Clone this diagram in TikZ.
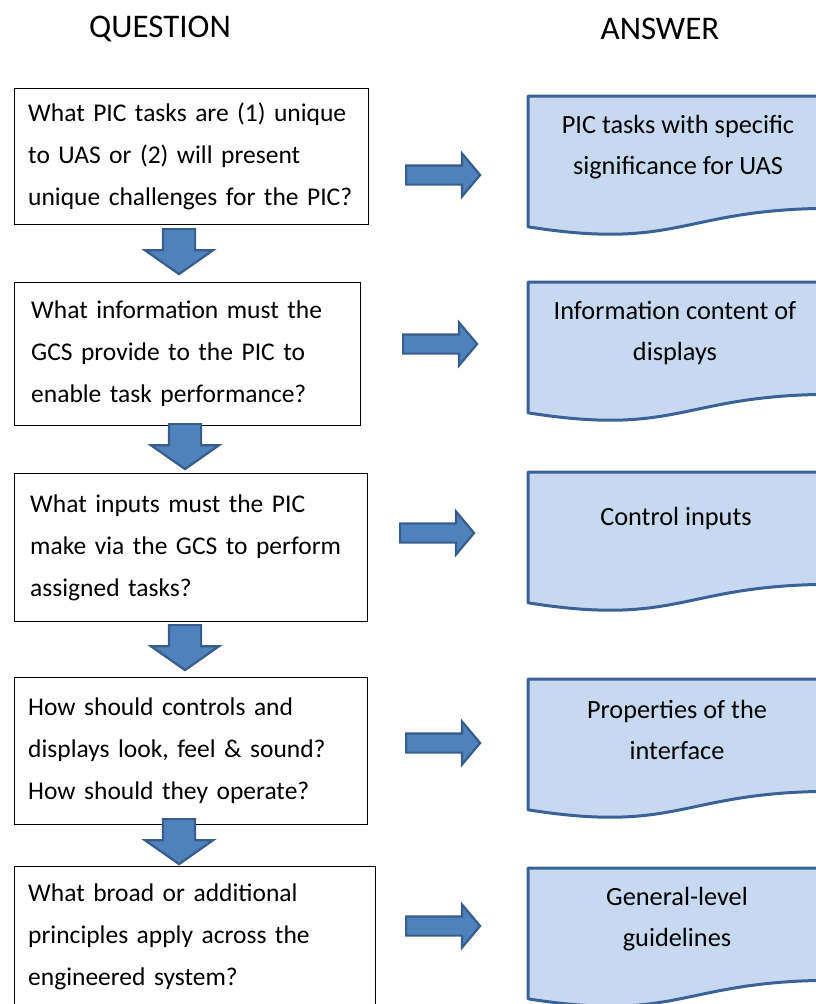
\documentclass[tikz,border=0pt]{standalone}
\usepackage{fontspec}
\setmainfont{Carlito}
\usetikzlibrary{shapes.arrows}
\definecolor{docfill}{HTML}{C6D9F1}
\definecolor{docline}{HTML}{3A6296}
\definecolor{arrfill}{HTML}{4F81BD}
\definecolor{arrline}{HTML}{385D8A}

\begin{document}
\begin{tikzpicture}[
  x=1pt,
  y=-1pt,
  qbox/.style={
    draw=black,
    line width=1.2pt,
    anchor=north west,
    inner sep=0pt
  },
  qtext/.style={
    anchor=west,
    inner sep=0pt,
    text width=360pt,
    align=left,
    font=\fontsize{25.5}{42}\selectfont
  },
  atext/.style={
    align=center,
    font=\fontsize{26.3}{41}\selectfont
  },
  head/.style={
    font=\fontsize{33}{40}\selectfont
  },
  docshape/.style={
    draw=docline,
    fill=docfill,
    line width=3pt,
    line join=round
  },
  rarrow/.style={
    single arrow,
    draw=arrline,
    fill=arrfill,
    line width=2.2pt,
    anchor=tail,
    minimum width=0pt,
    minimum height=74pt,
    inner xsep=0pt,
    inner ysep=8.5pt,
    single arrow head extend=12pt,
    single arrow tip angle=100,
    single arrow head indent=0pt
  },
  darrow/.style={
    single arrow,
    draw=arrline,
    fill=arrfill,
    line width=2.2pt,
    rotate=-90,
    anchor=tail,
    minimum width=0pt,
    minimum height=45pt,
    inner xsep=0pt,
    inner ysep=15pt,
    single arrow head extend=18pt,
    single arrow tip angle=110,
    single arrow head indent=0pt
  }
]
\useasboundingbox (0,0) rectangle (816,1004);
\clip (0,0) rectangle (816,1004);

\node[head] (qhead) at (160,29) {QUESTION};
\node[head] (ahead) at (660,29) {ANSWER};

\node[qbox, minimum width=354pt, minimum height=136pt] (q1) at (14,88) {};
\node[qbox, minimum width=346pt, minimum height=143pt] (q2) at (14,282) {};
\node[qbox, minimum width=353pt, minimum height=148pt] (q3) at (14,473) {};
\node[qbox, minimum width=353pt, minimum height=147pt] (q4) at (14,677) {};
\node[qbox, minimum width=361pt, minimum height=140pt] (q5) at (14,866) {};

\node[qtext] (q1t) at ([xshift=14pt]q1.west)
  {What PIC tasks are (1) unique\\to UAS or (2) will present\\unique challenges for the PIC?};
\node[qtext] (q2t) at ([xshift=17pt]q2.west)
  {What information must the\\GCS provide to the PIC to\\enable task performance?};
\node[qtext] (q3t) at ([xshift=16pt]q3.west)
  {What inputs must the PIC\\make via the GCS to perform\\assigned tasks?};
\node[qtext] (q4t) at ([xshift=14pt]q4.west)
  {How should controls and\\displays look, feel \& sound?\\How should they operate?};
\node[qtext] (q5t) at ([xshift=14pt]q5.west)
  {What broad or additional\\principles apply across the\\engineered system?};

\node[darrow] (d1) at (179,228) {};
\node[darrow] (d2) at (185,423) {};
\node[darrow] (d3) at (185,624) {};
\node[darrow] (d4) at (179,818) {};

\draw[docshape] (528,96) -- (834,96) -- (834,208.3) .. controls (681,208.3) and (681,251) .. (528,226.8) -- cycle;
\draw[docshape] (528,282) -- (834,282) -- (834,394.3) .. controls (681,394.3) and (681,437) .. (528,412.8) -- cycle;
\draw[docshape] (528,472) -- (834,472) -- (834,584.3) .. controls (681,584.3) and (681,627) .. (528,602.8) -- cycle;
\draw[docshape] (528,679) -- (834,679) -- (834,791.3) .. controls (681,791.3) and (681,834) .. (528,809.8) -- cycle;
\draw[docshape] (528,868) -- (834,868) -- (834,980.3) .. controls (681,980.3) and (681,1023) .. (528,998.8) -- cycle;

\node[atext] (a1) at (678,147) {PIC tasks with specific\\significance for UAS};
\node[atext] (a2) at (675,333) {Information content of\\displays};
\node[atext] (a3) at (676,518) {Control inputs};
\node[atext] (a4) at (677,730) {Properties of the\\interface};
\node[atext] (a5) at (677,919) {General-level\\guidelines};

\node[rarrow] (r1) at (405,175) {};
\node[rarrow] (r2) at (402,344) {};
\node[rarrow] (r3) at (399,533) {};
\node[rarrow] (r4) at (405,743) {};
\node[rarrow] (r5) at (405,926) {};
\end{tikzpicture}
\end{document}
